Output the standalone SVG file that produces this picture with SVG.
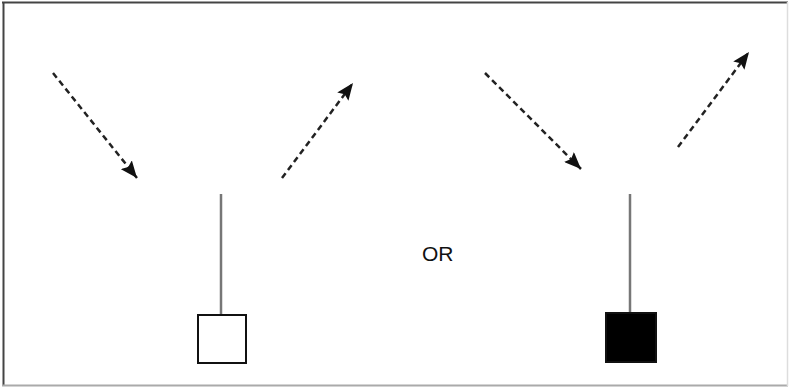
<svg xmlns="http://www.w3.org/2000/svg" width="789" height="387" viewBox="0 0 789 387">
<style>
.ray{stroke:#222;stroke-width:2.5;stroke-dasharray:6 4;fill:none;marker-end:url(#ah)}
.stem{stroke:#777;stroke-width:2.5}
.box{stroke:#111;stroke-width:2}
.lbl{font-family:"Liberation Sans",Arial,sans-serif;font-size:21px;fill:#111}
</style>
<defs>
<marker id="ah" markerUnits="userSpaceOnUse" markerWidth="18" markerHeight="14" refX="17" refY="7" orient="auto">
<path d="M0,0 L17,7 L0,14 L3,7 z" fill="#111"/>
</marker>
</defs>
<rect x="0" y="0" width="789" height="387" fill="#fff"/>
<g id="frame">
<line x1="2" y1="2.5" x2="788" y2="2.5" stroke="#444" stroke-width="2"/>
<line x1="3.5" y1="2" x2="3.5" y2="386" stroke="#444" stroke-width="2"/>
<line x1="2" y1="385.5" x2="788" y2="385.5" stroke="#aaa" stroke-width="2"/>
<line x1="787.5" y1="2" x2="787.5" y2="386" stroke="#ddd" stroke-width="1.5"/>
</g>
<g id="connectors">
<line class="ray" x1="53" y1="73" x2="137" y2="178"/>
<line class="ray" x1="282" y1="178" x2="353" y2="83"/>
<line class="ray" x1="485" y1="73" x2="581" y2="169"/>
<line class="ray" x1="678" y1="147" x2="749" y2="52"/>
</g>
<g id="left-node">
<line class="stem" x1="221" y1="194" x2="221" y2="315"/>
<rect class="box" x="198" y="315" width="48" height="48" fill="#fff"/>
</g>
<g id="or-label">
<text class="lbl" x="422" y="261">OR</text>
</g>
<g id="right-node">
<line class="stem" x1="630" y1="194" x2="630" y2="313"/>
<rect class="box" x="606" y="313" width="50" height="49" fill="#000"/>
</g>
</svg>
